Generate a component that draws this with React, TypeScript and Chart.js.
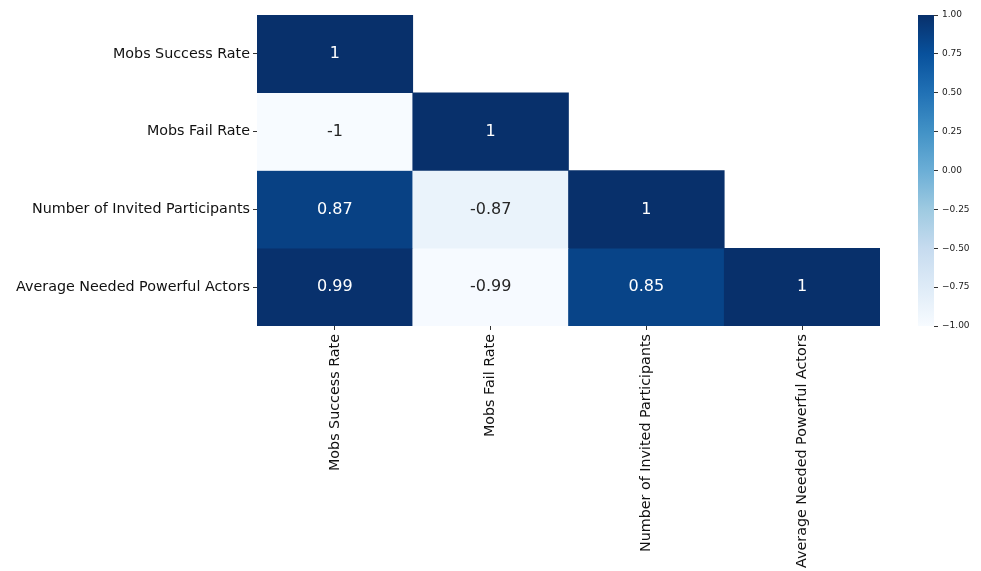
import React, { useEffect, useRef } from 'react';
import { Chart, registerables } from 'chart.js';

Chart.register(...registerables);

const rowLabels = [
  'Mobs Success Rate',
  'Mobs Fail Rate',
  'Number of Invited Participants',
  'Average Needed Powerful Actors',
];
const colLabels = [
  'Mobs Success Rate',
  'Mobs Fail Rate',
  'Number of Invited Participants',
  'Average Needed Powerful Actors',
];
const row0 = [1];
const row1 = [-1, 1];
const row2 = [0.87, -0.87, 1];
const row3 = [0.99, -0.99, 0.85, 1];
const rows = [row0, row1, row2, row3];
const colorbarTicks = [1.0, 0.75, 0.5, 0.25, 0.0, -0.25, -0.5, -0.75, -1.0];

// matplotlib "Blues" colormap stops
const BLUES: [number, number, number][] = [
  [247, 251, 255],
  [222, 235, 247],
  [198, 219, 239],
  [158, 202, 225],
  [107, 174, 214],
  [66, 146, 198],
  [33, 113, 181],
  [8, 81, 156],
  [8, 48, 107],
];

function bluesRGB(v: number): [number, number, number] {
  const t = Math.min(1, Math.max(0, (v + 1) / 2));
  const pos = t * (BLUES.length - 1);
  const i = Math.min(BLUES.length - 2, Math.floor(pos));
  const f = pos - i;
  const a = BLUES[i];
  const b = BLUES[i + 1];
  return [0, 1, 2].map((k) => Math.round(a[k] + (b[k] - a[k]) * f)) as [number, number, number];
}
function blues(v: number): string {
  const [r, g, b] = bluesRGB(v);
  return `rgb(${r},${g},${b})`;
}
function textColorFor(v: number): string {
  const [r, g, b] = bluesRGB(v).map((c) => {
    const s = c / 255;
    return s <= 0.03928 ? s / 12.92 : Math.pow((s + 0.055) / 1.055, 2.4);
  });
  const lum = 0.2126 * r + 0.7152 * g + 0.0722 * b;
  return lum > 0.408 ? '#262626' : '#ffffff';
}

const FONT = "'DejaVu Sans', sans-serif";

const annotatePlugin = {
  id: 'annotateCells',
  afterDatasetsDraw(chart: any) {
    const ctx = chart.ctx;
    ctx.save();
    ctx.font = `16px ${FONT}`;
    ctx.textAlign = 'center';
    ctx.textBaseline = 'middle';
    rows.forEach((row, i) => {
      const meta = chart.getDatasetMeta(i);
      row.forEach((v, j) => {
        const el = meta.data[j];
        if (!el) return;
        const p = el.getCenterPoint();
        ctx.fillStyle = textColorFor(v);
        ctx.fillText(String(v), p.x, p.y);
      });
    });
    ctx.restore();
  },
};

function Heatmap() {
  const ref = useRef<HTMLCanvasElement | null>(null);
  useEffect(() => {
    if (!ref.current) return;
    const chart = new Chart(ref.current, {
      type: 'bar',
      data: {
        labels: colLabels,
        datasets: rows.map((row, i) => ({
          label: rowLabels[i],
          data: colLabels.map((_, j) => (j < row.length ? [i, i + 1] : null)) as any,
          backgroundColor: colLabels.map((_, j) => (j < row.length ? blues(row[j]) : 'rgba(0,0,0,0)')),
          borderWidth: 0,
          barPercentage: 1,
          categoryPercentage: 1,
          grouped: false,
        })),
      },
      options: {
        responsive: false,
        animation: false,
        layout: { padding: { top: 15, right: 101, bottom: 0, left: 0 } },
        plugins: { legend: { display: false }, tooltip: { enabled: false } },
        scales: {
          x: {
            type: 'category',
            grid: { display: true, drawOnChartArea: false, drawTicks: true, tickLength: 4, offset: false, color: '#333' },
            border: { display: false },
            ticks: {
              minRotation: 90,
              maxRotation: 90,
              autoSkip: false,
              padding: 4,
              color: '#111',
              font: { family: FONT, size: 14.3 },
            },
            afterFit: (scale: any) => {
              scale.height = 245;
            },
          },
          y: {
            type: 'linear',
            min: 0,
            max: 4,
            reverse: true,
            grid: { display: true, drawOnChartArea: false, drawTicks: true, tickLength: 4, color: '#333' },
            border: { display: false },
            afterBuildTicks: (axis: any) => {
              axis.ticks = [0.5, 1.5, 2.5, 3.5].map((v) => ({ value: v }));
            },
            ticks: {
              padding: 3,
              color: '#111',
              font: { family: FONT, size: 14.3 },
              callback: (_v: any, index: number) => rowLabels[index],
            },
            afterFit: (scale: any) => {
              scale.width = 257;
            },
          },
        },
      },
      plugins: [annotatePlugin],
    } as any);
    return () => chart.destroy();
  }, []);
  return <canvas ref={ref} width={981} height={571} style={{ position: 'absolute', left: 0, top: 0 }} />;
}

function Colorbar() {
  const ref = useRef<HTMLCanvasElement | null>(null);
  useEffect(() => {
    if (!ref.current) return;
    const chart = new Chart(ref.current, {
      type: 'bar',
      data: {
        labels: ['cbar'],
        datasets: [
          {
            data: [[-1, 1]] as any,
            borderWidth: 0,
            barPercentage: 1,
            categoryPercentage: 1,
            backgroundColor: (c: any) => {
              const ch = c.chart;
              const ys = ch.scales.y;
              if (!ch.chartArea || !ys) return blues(0);
              const y0 = ys.getPixelForValue(-1);
              const y1 = ys.getPixelForValue(1);
              const g = ch.ctx.createLinearGradient(0, y0, 0, y1);
              BLUES.forEach((col, k) => {
                g.addColorStop(k / (BLUES.length - 1), `rgb(${col[0]},${col[1]},${col[2]})`);
              });
              return g;
            },
          },
        ],
      },
      options: {
        responsive: false,
        animation: false,
        layout: { padding: { top: 15, right: 0, bottom: 245, left: 28 } },
        plugins: { legend: { display: false }, tooltip: { enabled: false } },
        scales: {
          x: { display: false },
          y: {
            type: 'linear',
            position: 'right',
            min: -1,
            max: 1,
            grid: { display: true, drawOnChartArea: false, drawTicks: true, tickLength: 4, color: '#333' },
            border: { display: false },
            afterBuildTicks: (axis: any) => {
              axis.ticks = colorbarTicks.map((v) => ({ value: v }));
            },
            ticks: {
              padding: 4,
              color: '#1a1a1a',
              font: { family: FONT, size: 9 },
              callback: (v: any) => {
                const n = Number(v);
                const s = Math.abs(n).toFixed(2);
                return n < 0 ? '\u2212' + s : s;
              },
            },
            afterFit: (scale: any) => {
              scale.width = 47;
            },
          },
        },
      },
    } as any);
    return () => chart.destroy();
  }, []);
  return <canvas ref={ref} width={91} height={571} style={{ position: 'absolute', left: 890, top: 0 }} />;
}

export default function App() {
  return (
    <div style={{ position: 'absolute', left: 0, top: 0, width: 981, height: 571, background: '#fff' }}>
      <Heatmap />
      <Colorbar />
    </div>
  );
}
